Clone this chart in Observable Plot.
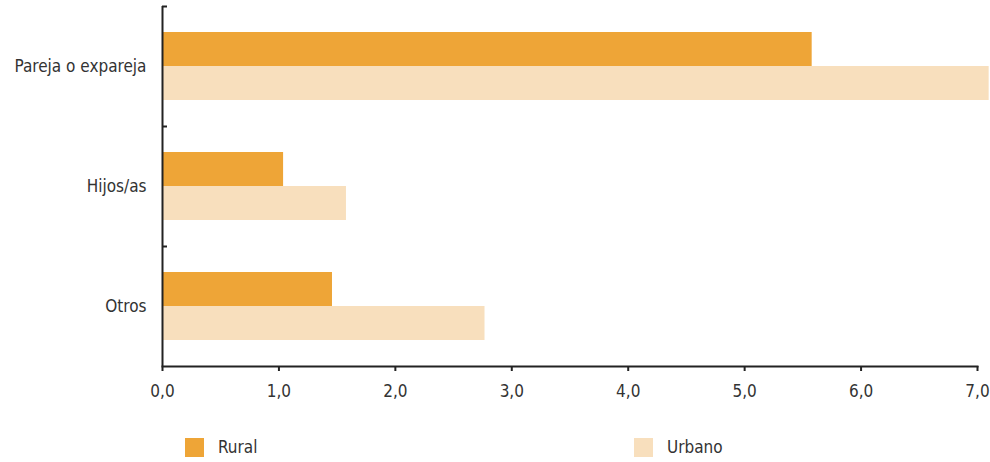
<!DOCTYPE html>
<html>
<head>
<meta charset="utf-8">
<script src="https://cdn.jsdelivr.net/npm/d3@7"></script>
<script src="https://cdn.jsdelivr.net/npm/@observablehq/plot@0.6"></script>
<style>
  html, body { margin: 0; padding: 0; background: #fff; }
  body { width: 990px; height: 462px; overflow: hidden; font-family: "DejaVu Sans Condensed", "Liberation Sans", sans-serif; }
  #legend { position: relative; height: 42px; width: 990px; font-size: 17px; color: #333; }
  .item { position: absolute; top: 17px; display: flex; align-items: center; }
  .sw { width: 19px; height: 19px; margin-right: 14px; }
</style>
</head>
<body>
<div id="chart"></div>
<div id="legend"></div>
<script>
const categories = ["Pareja o expareja", "Hijos/as", "Otros"];
const series = ["Rural", "Urbano"];
const rural = [5.58, 1.04, 1.46];
const urbano = [7.1, 1.58, 2.77];
const xTicks = [0, 1, 2, 3, 4, 5, 6, 7];
const colors = ["#EEA537", "#F8DFBD"];

const ruralData = categories.map((c, i) => ({category: c, value: rural[i]}));
const urbanoData = categories.map((c, i) => ({category: c, value: urbano[i]}));

const fmt = d => d.toFixed(1).replace(".", ",");

const chart = Plot.plot({
  width: 990,
  height: 420,
  marginLeft: 162,
  marginRight: 13,
  marginTop: 6,
  marginBottom: 54,
  style: {fontFamily: '"DejaVu Sans Condensed", "Liberation Sans", sans-serif', fontSize: "17px", color: "#333", background: "#fff"},
  x: {domain: [0, 7]},
  y: {domain: categories, padding: 0},
  marks: [
    Plot.barX(ruralData, {y: "category", x: "value", fill: colors[0], insetTop: 26, insetBottom: 60}),
    Plot.barX(urbanoData, {y: "category", x: "value", fill: colors[1], insetTop: 60, insetBottom: 26}),
    Plot.ruleX([0], {stroke: "#222", strokeWidth: 2}),
    Plot.ruleY(categories, {y: d => d, x1: 0, x2: 0, insetRight: -5, dy: -60, stroke: "#222", strokeWidth: 2}),
    Plot.frame({anchor: "bottom", stroke: "#222", strokeWidth: 2}),
    Plot.axisX(xTicks, {tickSize: 5, tickPadding: 13, tickFormat: fmt, stroke: "#222", strokeWidth: 2, fill: "#333", label: null}),
    Plot.axisY({tickSize: 0, tickPadding: 16, fill: "#333", label: null})
  ]
});
document.getElementById("chart").appendChild(chart);

const legend = document.getElementById("legend");
const lx = [185, 634];
series.forEach((s, i) => {
  const it = document.createElement("div");
  it.className = "item";
  it.style.left = lx[i] + "px";
  const sw = document.createElement("div");
  sw.className = "sw";
  sw.style.background = colors[i];
  const t = document.createElement("span");
  t.textContent = s;
  it.appendChild(sw);
  it.appendChild(t);
  legend.appendChild(it);
});
</script>
</body>
</html>
